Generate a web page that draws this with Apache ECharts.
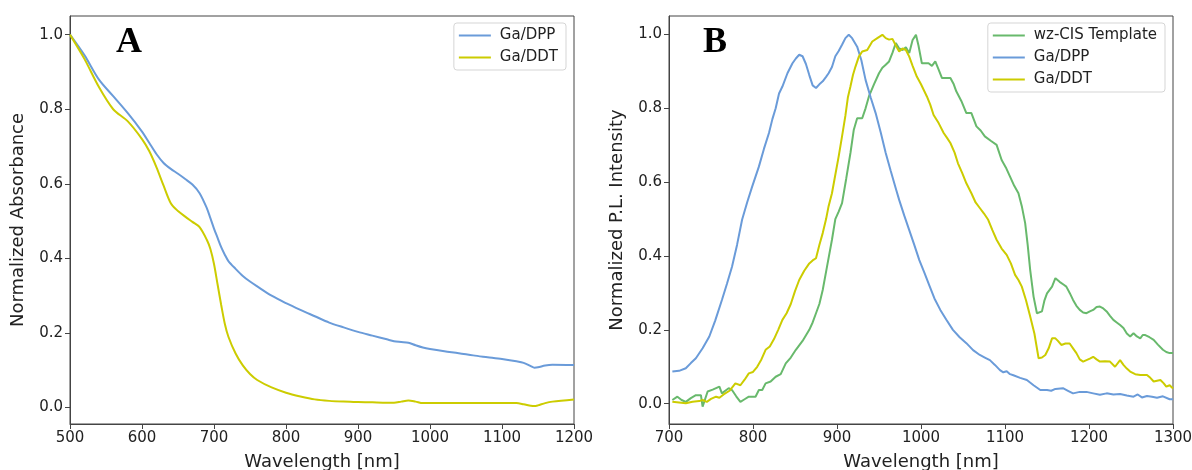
<!DOCTYPE html>
<html><head><meta charset="utf-8">
<script src="https://cdn.jsdelivr.net/npm/echarts@6/dist/echarts.min.js"></script>
<style>html,body{margin:0;padding:0;background:#fff}#c{width:1192px;height:470px}</style>
</head><body><div id="c"></div>
<script>
// Panel A: absorbance
const absWl = [500,520,540,560,580,600,610,620,630,640,650,660,670,680,690,695,700,705,710,715,720,730,740,750,760,780,800,820,840,860,880,900,920,940,950,960,970,980,990,1000,1020,1040,1060,1080,1100,1120,1130,1140,1145,1150,1160,1170,1200];
const absDPP = [1.0,0.945,0.88,0.835,0.79,0.74,0.71,0.68,0.656,0.64,0.627,0.613,0.598,0.575,0.535,0.508,0.48,0.455,0.43,0.41,0.393,0.372,0.353,0.338,0.325,0.30,0.28,0.262,0.245,0.228,0.215,0.203,0.193,0.183,0.178,0.176,0.174,0.167,0.161,0.157,0.151,0.146,0.140,0.135,0.13,0.124,0.12,0.111,0.107,0.108,0.113,0.115,0.114];
const absDDT = [1.0,0.935,0.86,0.80,0.768,0.72,0.688,0.645,0.595,0.548,0.527,0.512,0.498,0.484,0.45,0.425,0.385,0.33,0.275,0.225,0.19,0.145,0.113,0.09,0.074,0.054,0.04,0.03,0.022,0.018,0.016,0.015,0.014,0.013,0.013,0.016,0.019,0.016,0.012,0.012,0.012,0.012,0.012,0.012,0.012,0.012,0.009,0.005,0.004,0.006,0.012,0.016,0.022];

// Panel B: PL
const plCisWl = [704,710,715,720,726,732,738,740,746,752,760,763,767,771,775,780,785,790,795,803,807,811,815,821,827,833,839,845,851,859,867,871,875,879,883,888,894,898,902,906,911,916,920,924,930,934,938,944,950,954,958,962,966,970,974,978,982,986,990,994,997,1001,1005,1009,1013,1017,1021,1025,1030,1035,1039,1042,1048,1054,1060,1066,1071,1076,1083,1090,1096,1101,1106,1111,1116,1120,1124,1127,1130,1134,1138,1144,1147,1150,1156,1160,1165,1170,1173,1177,1181,1185,1189,1193,1197,1201,1205,1209,1213,1217,1221,1225,1229,1233,1237,1241,1245,1249,1253,1257,1261,1264,1267,1272,1277,1282,1288,1292,1296,1300];
const plCis = [0.010,0.019,0.010,0.005,0.015,0.023,0.023,-0.008,0.033,0.038,0.046,0.028,0.035,0.042,0.037,0.020,0.005,0.012,0.019,0.019,0.037,0.037,0.055,0.060,0.073,0.08,0.109,0.125,0.146,0.17,0.200,0.22,0.245,0.27,0.308,0.37,0.444,0.5,0.52,0.543,0.61,0.679,0.742,0.773,0.773,0.80,0.832,0.865,0.895,0.91,0.918,0.927,0.95,0.977,0.962,0.958,0.965,0.950,0.985,0.999,0.97,0.922,0.922,0.922,0.915,0.927,0.905,0.882,0.882,0.882,0.865,0.846,0.82,0.787,0.787,0.751,0.74,0.724,0.712,0.701,0.660,0.64,0.615,0.59,0.570,0.535,0.489,0.43,0.362,0.29,0.245,0.250,0.28,0.299,0.317,0.340,0.330,0.322,0.317,0.30,0.281,0.265,0.254,0.247,0.245,0.25,0.254,0.262,0.263,0.258,0.25,0.238,0.227,0.22,0.213,0.205,0.19,0.182,0.191,0.182,0.177,0.186,0.186,0.18,0.173,0.16,0.146,0.14,0.137,0.137];

const plDppWl = [704,712,720,726,732,740,748,755,763,769,775,781,787,793,799,803,807,813,819,823,827,831,835,841,847,851,855,859,863,867,871,875,879,883,887,890,894,898,902,906,910,914,918,924,929,934,940,946,952,958,964,970,974,980,986,992,998,1004,1010,1016,1023,1030,1038,1046,1054,1062,1070,1076,1082,1088,1094,1098,1102,1106,1110,1118,1126,1134,1142,1150,1155,1160,1169,1175,1181,1189,1197,1205,1213,1221,1229,1237,1245,1253,1258,1263,1269,1275,1281,1288,1296,1300];
const plDpp = [0.087,0.089,0.096,0.11,0.123,0.15,0.182,0.225,0.281,0.325,0.371,0.43,0.498,0.545,0.588,0.615,0.642,0.69,0.733,0.77,0.8,0.84,0.859,0.895,0.922,0.935,0.945,0.941,0.92,0.89,0.862,0.855,0.865,0.873,0.885,0.895,0.912,0.941,0.955,0.972,0.99,0.999,0.99,0.967,0.93,0.877,0.83,0.787,0.735,0.679,0.63,0.583,0.552,0.51,0.47,0.43,0.389,0.355,0.32,0.285,0.254,0.228,0.200,0.18,0.164,0.145,0.132,0.125,0.118,0.105,0.091,0.085,0.088,0.08,0.077,0.07,0.064,0.05,0.037,0.037,0.035,0.04,0.042,0.035,0.028,0.032,0.032,0.028,0.024,0.028,0.025,0.026,0.022,0.019,0.025,0.017,0.021,0.019,0.016,0.02,0.012,0.012];

const plDdtWl = [704,712,720,728,736,740,745,750,756,760,765,772,779,785,790,795,800,805,810,815,820,825,830,835,840,845,850,855,861,867,871,875,879,883,887,890,894,898,902,906,910,913,916,919,922,926,930,936,942,948,954,958,962,966,970,974,978,982,986,990,995,1000,1007,1011,1015,1021,1027,1031,1035,1040,1044,1049,1054,1060,1065,1070,1075,1080,1085,1090,1096,1102,1107,1112,1116,1120,1125,1130,1135,1140,1144,1148,1152,1156,1160,1163,1167,1172,1177,1181,1185,1189,1193,1197,1201,1205,1209,1213,1219,1225,1231,1237,1241,1245,1249,1255,1261,1269,1273,1277,1281,1285,1289,1292,1296,1300];
const plDdt = [0.005,0.003,0.001,0.005,0.007,0.010,0.005,0.013,0.019,0.016,0.025,0.035,0.055,0.05,0.065,0.082,0.086,0.1,0.12,0.146,0.155,0.175,0.2,0.227,0.245,0.27,0.305,0.335,0.36,0.380,0.388,0.394,0.43,0.462,0.5,0.535,0.570,0.62,0.67,0.724,0.78,0.83,0.859,0.89,0.913,0.94,0.954,0.958,0.981,0.99,0.999,0.99,0.986,0.988,0.97,0.954,0.962,0.958,0.94,0.915,0.886,0.865,0.832,0.81,0.782,0.76,0.733,0.72,0.706,0.68,0.651,0.625,0.597,0.57,0.545,0.530,0.515,0.498,0.47,0.444,0.42,0.403,0.38,0.349,0.335,0.317,0.28,0.236,0.19,0.123,0.125,0.132,0.15,0.177,0.177,0.17,0.159,0.163,0.163,0.15,0.137,0.12,0.114,0.118,0.122,0.127,0.12,0.114,0.115,0.114,0.100,0.118,0.105,0.095,0.087,0.08,0.078,0.078,0.07,0.060,0.062,0.064,0.055,0.046,0.050,0.041];

const yTicks = [0.0,0.2,0.4,0.6,0.8,1.0];

const BLUE = '#6a9bd9', YEL = '#cccc00', GRN = '#68b96c';
const FONT = 'DejaVu Sans';
const pair = (xs, ys) => xs.map((x, i) => [x, ys[i]]);

const chart = echarts.init(document.getElementById('c'), null, {renderer: 'canvas'});

function xAxis(idx, min, max) {
  return {
    type: 'value', gridIndex: idx, min: min, max: max, interval: 100,
    name: 'Wavelength [nm]', nameLocation: 'middle', nameGap: 29,
    nameTextStyle: {fontFamily: FONT, fontSize: 18, color: '#222'},
    axisLine: {show: true, onZero: false, lineStyle: {color: '#444', width: 1}},
    axisTick: {show: true, length: 5, lineStyle: {color: '#444'}},
    axisLabel: {fontFamily: FONT, fontSize: 15, color: '#222', margin: 7, formatter: v => String(v)},
    splitLine: {show: false}
  };
}
function yAxis(idx, min, name) {
  return {
    type: 'value', gridIndex: idx, min: min, max: 1.05,
    name: name, nameLocation: 'middle', nameGap: 43,
    nameTextStyle: {fontFamily: FONT, fontSize: 18, color: '#222'},
    axisLine: {show: true, onZero: false, lineStyle: {color: '#444', width: 1}},
    axisTick: {show: true, length: 5, lineStyle: {color: '#444'}, customValues: yTicks},
    axisLabel: {fontFamily: FONT, fontSize: 15, color: '#222', margin: 7,
      customValues: yTicks, formatter: v => v.toFixed(1)},
    splitLine: {show: false}
  };
}
function line(name, data, color, xi, smooth) {
  return {type: 'line', name: name, data: data, xAxisIndex: xi, yAxisIndex: xi,
    showSymbol: false, symbol: 'none', smooth: smooth, lineStyle: {color: color, width: 2},
    itemStyle: {color: color}, animation: false};
}
const legendCommon = {
  orient: 'vertical', icon: 'rect', itemWidth: 32, itemHeight: 2, itemGap: 7,
  backgroundColor: '#fff', borderColor: '#d5d5d5', borderWidth: 1, borderRadius: 3,
  padding: [5, 8, 5, 5],
  textStyle: {fontFamily: FONT, fontSize: 15, color: '#222', padding: [0, 0, 0, 4]}
};

chart.setOption({
  animation: false,
  grid: [
    {left: 70, top: 16, width: 504, height: 408, outerBoundsMode: 'none', containLabel: false, show: true, borderColor: '#444', borderWidth: 1, backgroundColor: 'transparent'},
    {left: 669, top: 16, width: 504, height: 408, outerBoundsMode: 'none', containLabel: false, show: true, borderColor: '#444', borderWidth: 1, backgroundColor: 'transparent'}
  ],
  xAxis: [xAxis(0, 500, 1200), xAxis(1, 700, 1300)],
  yAxis: [yAxis(0, -0.044, 'Normalized Absorbance'), yAxis(1, -0.055, 'Normalized P.L. Intensity')],
  legend: [
    Object.assign({}, legendCommon, {data: ['Ga/DPP', 'Ga/DDT'], right: 1192 - 566, top: 23}),
    Object.assign({}, legendCommon, {data: ['wz-CIS Template', 'Ga/DPP', 'Ga/DDT'], right: 1192 - 1165, top: 23})
  ],
  graphic: [
    {type: 'text', left: 116, top: 25, style: {text: 'A', font: 'bold 36px "Liberation Serif"', fill: '#000'}},
    {type: 'text', left: 703, top: 25, style: {text: 'B', font: 'bold 36px "Liberation Serif"', fill: '#000'}}
  ],
  series: [
    line('Ga/DPP', pair(absWl, absDPP), BLUE, 0, 0.3),
    line('Ga/DDT', pair(absWl, absDDT), YEL, 0, 0.3),
    line('wz-CIS Template', pair(plCisWl, plCis), GRN, 1, false),
    line('Ga/DPP', pair(plDppWl, plDpp), BLUE, 1, false),
    line('Ga/DDT', pair(plDdtWl, plDdt), YEL, 1, false)
  ]
});
</script></body></html>
